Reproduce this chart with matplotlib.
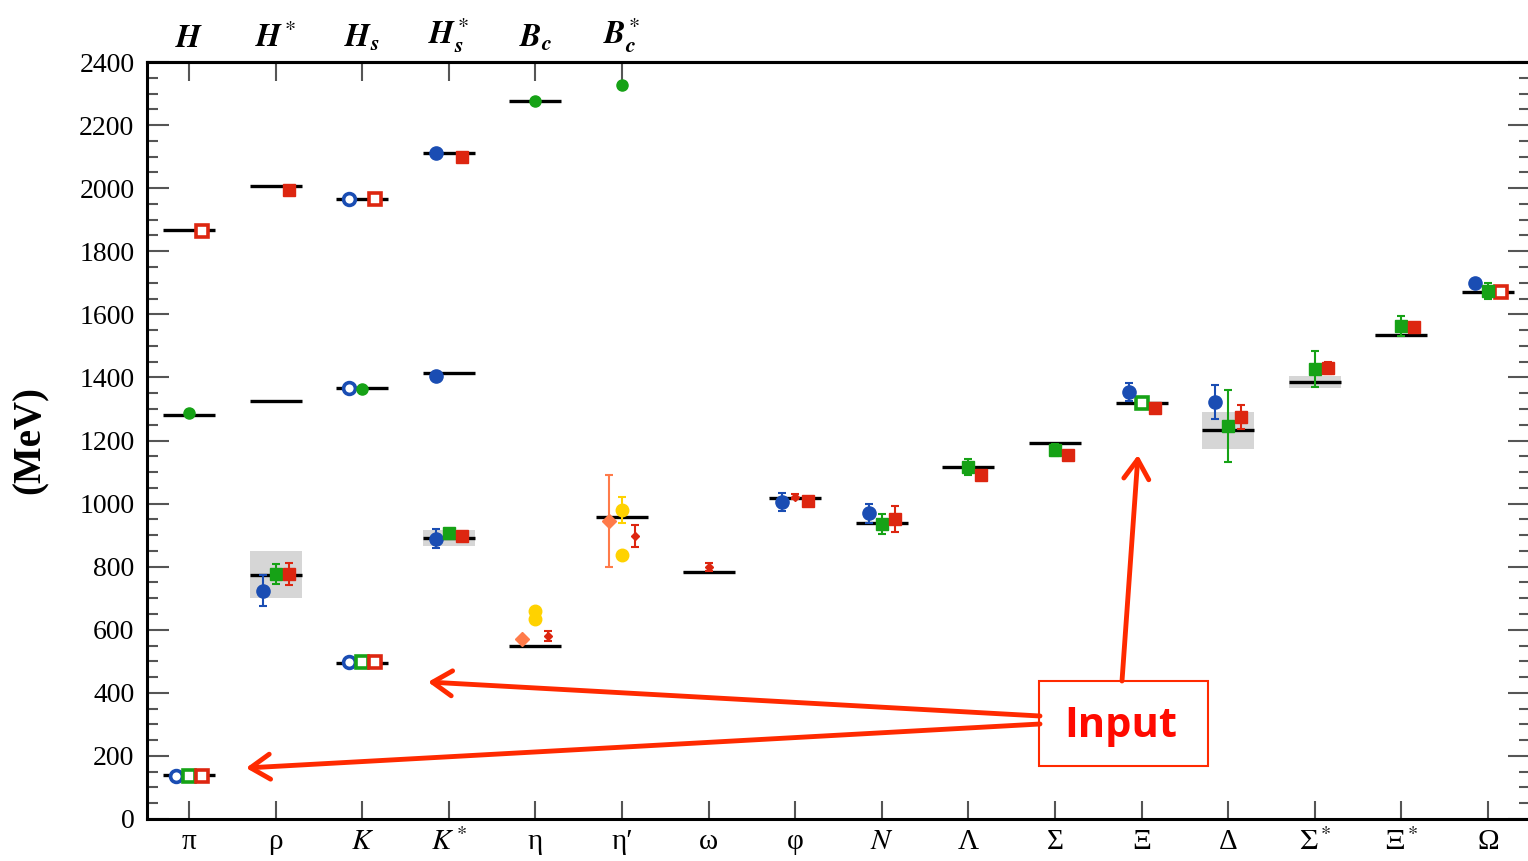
import matplotlib
matplotlib.use('Agg')
import matplotlib.pyplot as plt
from matplotlib.ticker import MultipleLocator
from matplotlib.patches import Rectangle
import numpy as np

plt.rcParams['mathtext.fontset'] = 'stix'
plt.rcParams['font.family'] = ['Liberation Serif', 'DejaVu Serif']

# hadron names along the bottom, heavy-light mesons along the top
hadrons = ['π', 'ρ', '$K$', '$K^*$', 'η', 'η′', 'ω', 'φ', '$N$', 'Λ', 'Σ', 'Ξ', 'Δ',
           r'$\Sigma^*$', r'$\Xi^*$', 'Ω']
heavy = [r'$\mathbfit{H}$', r'$\mathbfit{H}^*$', r'$\mathbfit{H}_\mathbfit{s}$',
         r'$\mathbfit{H}_\mathbfit{s}^*$', r'$\mathbfit{B}_\mathbfit{c}$', r'$\mathbfit{B}_\mathbfit{c}^*$']

# experiment (black bars) and resonance half widths (grey boxes)
exp_idx = [0, 1, 2, 3, 4, 5, 6, 7, 8, 9, 10, 11, 12, 13, 14, 15, 0, 1, 2, 3, 0, 1, 2, 3, 4]
exp_mass = [138, 775, 496, 892, 548, 958, 783, 1019, 939, 1116, 1193, 1318, 1232, 1385, 1533, 1672,
            1281, 1325, 1367, 1414, 1866, 2007, 1966, 2110, 2276]
exp_halfw = [0, 74, 0, 25, 0, 0, 4, 2, 0, 0, 0, 0, 58, 18, 5, 0,
             0, 0, 0, 0, 0, 0, 0, 0, 0]

# lattice results
blue_idx = [1, 3, 7, 8, 11, 12, 15, 3, 3]
blue_m = [723, 888, 1005, 970, 1354, 1322, 1699, 2112, 1405]
blue_err = [49, 30, 29, 30, 29, 54, 8, 0, 0]
blue_in_idx = [0, 2, 2, 2]
blue_in_m = [137, 498, 1966, 1367]

green_idx = [1, 3, 8, 9, 10, 12, 13, 14, 15]
green_m = [777, 906, 935, 1116, 1170, 1246, 1427, 1563, 1674]
green_err = [33, 8, 32, 24, 20, 115, 58, 32, 25]
green_in_idx = [0, 2, 11]
green_in_m = [137, 497, 1319]
green_c_idx = [0, 2, 4, 5]
green_c_m = [1287, 1363, 2277, 2327]
green_c_err = [10, 0, 0, 0]

red_idx = [1, 1, 3, 3, 7, 8, 9, 10, 11, 12, 13, 14]
red_m = [1994, 777, 897, 2099, 1008, 951, 1091, 1154, 1303, 1275, 1430, 1560]
red_err = [0, 35, 8, 0, 8, 41, 10, 10, 8, 39, 20, 8]
red_in_idx = [0, 0, 2, 2, 15]
red_in_m = [137, 1864, 497, 1966, 1671]
red_s_idx = [4, 5]
red_s_m = [580, 897]
red_s_err = [16, 35]
red_s2_idx = [6, 7]
red_s2_m = [799, 1021]
red_s2_err = [13, 8]

orange_idx = [4, 5]
orange_m = [572, 945]
orange_err = [0, 145]
yellow_idx = [4, 4, 5, 5]
yellow_m = [660, 634, 980, 837]
yellow_err = [0, 0, 40, 0]

BLUE = '#1a4db3'
GREEN = '#16a216'
RED = '#dd2610'
ORANGE = '#ff7b4a'
YELLOW = '#ffd200'

fig = plt.figure(figsize=(15.28, 8.61), dpi=100)
ax = fig.add_axes([147 / 1528, 42 / 861, 1382.5 / 1528, 757 / 861])

ei = np.array(exp_idx)
em = np.array(exp_mass)
hw = np.array(exp_halfw)
ax.bar(ei, 2 * hw, bottom=em - hw, width=0.6, color='#d6d6d6', zorder=1)
ax.hlines(em, ei - 0.3, ei + 0.3, color='black', lw=2.4, zorder=3)


def pts(idx, m, err, off, color, marker, ms, hollow=False):
    x = np.array(idx) + off
    if hollow:
        ax.plot(x, m, marker, ls='none', ms=ms, mfc='white', mec=color, mew=2.6, zorder=5)
    else:
        ax.errorbar(x, m, yerr=err, fmt=marker, color=color, ms=ms, mec=color, ecolor=color,
                    elinewidth=1.5, capsize=3, capthick=1.5, zorder=5)


pts(blue_idx, blue_m, blue_err, -0.15, BLUE, 'o', 9.5)
pts(blue_in_idx, blue_in_m, None, -0.15, BLUE, 'o', 8.5, hollow=True)
pts(green_idx, green_m, green_err, 0, GREEN, 's', 8.5)
pts(green_in_idx, green_in_m, None, 0, GREEN, 's', 8, hollow=True)
pts(green_c_idx, green_c_m, green_c_err, 0, GREEN, 'o', 8)
pts(red_idx, red_m, red_err, 0.15, RED, 's', 8.5)
pts(red_in_idx, red_in_m, None, 0.15, RED, 's', 8, hollow=True)
pts(red_s_idx, red_s_m, red_s_err, 0.15, RED, 'D', 4.5)
pts(red_s2_idx, red_s2_m, red_s2_err, 0, RED, 'D', 4.5)
pts(orange_idx, orange_m, orange_err, -0.15, ORANGE, 'D', 7)
pts(yellow_idx, yellow_m, yellow_err, 0, YELLOW, 'o', 9)

ax.set_xlim(-0.485, 15.48)
ax.set_ylim(0, 2400)
ax.set_xticks(range(len(hadrons)))
ax.set_xticklabels(hadrons, fontsize=21)
ax.yaxis.set_major_locator(MultipleLocator(200))
ax.yaxis.set_minor_locator(MultipleLocator(50))
ax.tick_params(axis='y', which='major', direction='in', length=16, width=1.5, color='#555555',
               labelsize=20, pad=9, right=True)
ax.tick_params(axis='y', which='minor', direction='in', length=8, width=1.5, color='#555555', right=True)
ax.tick_params(axis='x', which='major', direction='in', length=13, width=1.5, color='#555555', pad=7)
for s in ax.spines.values():
    s.set_linewidth(2.2)
ax.spines['right'].set_visible(False)
ax.set_ylabel('(MeV)', fontsize=28, fontweight='bold')
ax.yaxis.set_label_coords(-0.071, 0.5)

top = ax.secondary_xaxis('top')
top.set_xticks(range(len(heavy)))
top.set_xticklabels(heavy, fontsize=23)
top.tick_params(direction='in', length=14, width=1.5, color='#555555', pad=6)
top.spines['top'].set_linewidth(2.2)

# "Input" callout
fig.add_artist(Rectangle((1039 / 1528, 95 / 861), 169 / 1528, 85 / 861, transform=fig.transFigure,
                         fill=False, ec='#ff2a00', lw=1.5))
fig.text(1121 / 1528, 124 / 861, 'Input', ha='center', va='baseline', color='#ff0a00',
         fontsize=30, fontweight='bold', family=['Open Sans', 'DejaVu Sans'])
arrow = dict(arrowstyle='->,head_length=0.7,head_width=0.45', lw=3.5, color='#ff2a00',
             shrinkA=0, shrinkB=0, mutation_scale=20)
for base, tip in [((1040, 145), (428, 179)), ((1040, 137), (246, 93)), ((1122, 180), (1138, 406))]:
    ax.annotate('', xy=tip, xytext=base, xycoords='figure pixels', textcoords='figure pixels',
                arrowprops=arrow, annotation_clip=False)

fig.savefig('out.png', dpi=100)
